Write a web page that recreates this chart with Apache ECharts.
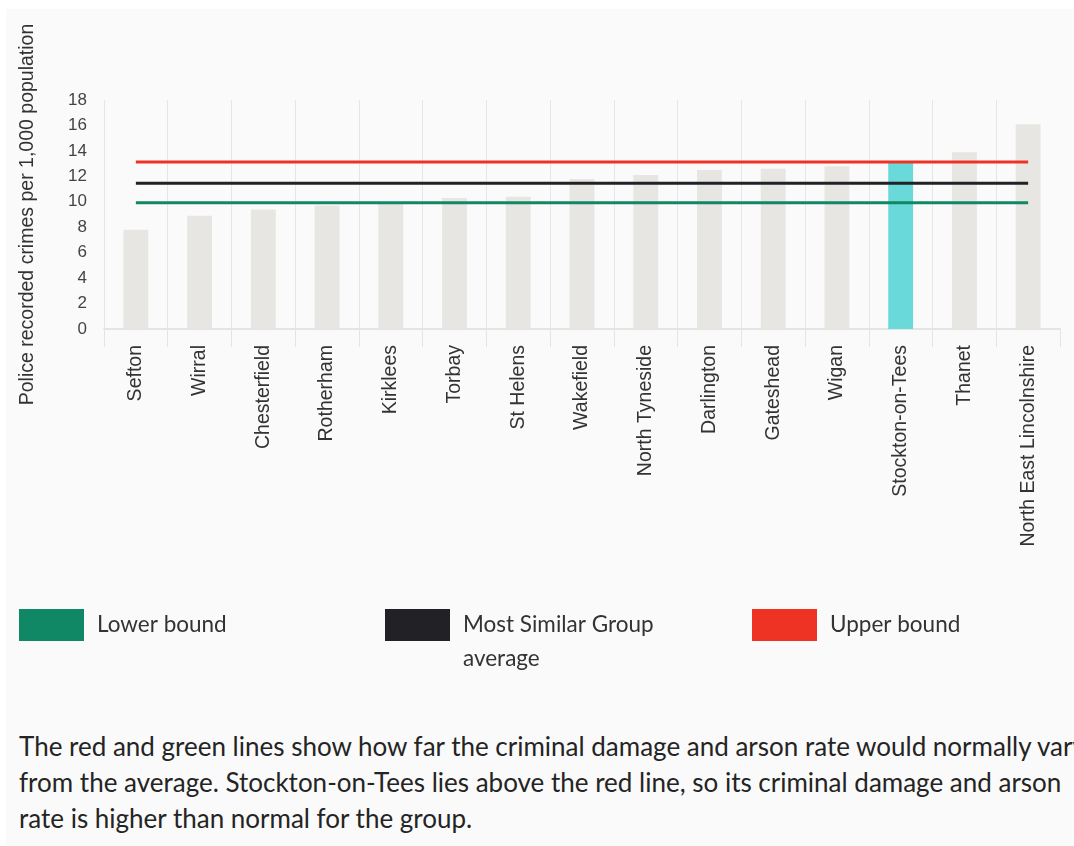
<!DOCTYPE html>
<html>
<head>
<meta charset="utf-8">
<script src="https://cdn.jsdelivr.net/npm/echarts@6/dist/echarts.min.js"></script>
<style>
  html, body { margin: 0; padding: 0; background: #ffffff; width: 1074px; height: 846px; overflow: hidden; }
  #panel { position: absolute; left: 6px; top: 9px; width: 1068px; height: 837px; background: #fafafa; }
  #chart { position: absolute; left: 0; top: 0; width: 1074px; height: 700px; }
  #note { position: absolute; left: 19px; top: 728px; font-family: Lato, sans-serif; font-size: 26px; line-height: 36px; color: #242424; white-space: nowrap; }
</style>
</head>
<body>
<div id="panel"></div>
<div id="chart"></div>
<div id="note">The red and green lines show how far the criminal damage and arson rate would normally vary<br>from the average. Stockton-on-Tees lies above the red line, so its criminal damage and arson<br>rate is higher than normal for the group.</div>
<script>
// ---- data ----
const categories = ['Sefton', 'Wirral', 'Chesterfield', 'Rotherham', 'Kirklees', 'Torbay', 'St Helens',
  'Wakefield', 'North Tyneside', 'Darlington', 'Gateshead', 'Wigan', 'Stockton-on-Tees', 'Thanet',
  'North East Lincolnshire'];
const rates = [7.8, 8.9, 9.4, 9.7, 9.9, 10.3, 10.4, 11.8, 12.1, 12.5, 12.6, 12.8, 13.2, 13.9, 16.1];
const highlighted = 'Stockton-on-Tees';
const lowerBound = 9.93;
const groupAverage = 11.45;
const upperBound = 13.13;
const seriesNames = ['Lower bound', 'Most Similar Group average', 'Upper bound'];
const yAxisTitle = 'Police recorded crimes per 1,000 population';

// ---- chart ----
const chart = echarts.init(document.getElementById('chart'), null, { renderer: 'canvas' });
const flat = v => categories.map(() => v);
const axisFont = 'Liberation Sans, Arial, sans-serif';
const legendBase = {
  top: 609, padding: 0, itemWidth: 65, itemHeight: 32, icon: 'rect', selectedMode: false,
  textStyle: { fontFamily: 'Lato, sans-serif', fontSize: 22.5, color: '#333333', padding: [0, 0, 0, 8] }
};
chart.setOption({
  backgroundColor: 'transparent',
  animation: false,
  grid: { left: 104, right: 14, top: 100, height: 229, containLabel: false },
  legend: [
    Object.assign({}, legendBase, { left: 19, data: [seriesNames[0]] }),
    Object.assign({}, legendBase, {
      left: 385, top: 574, data: [seriesNames[1]],
      formatter: () => '\nMost Similar Group\naverage',
      textStyle: Object.assign({}, legendBase.textStyle, { lineHeight: 34 })
    }),
    Object.assign({}, legendBase, { left: 752, data: [seriesNames[2]] })
  ],
  xAxis: {
    type: 'category',
    data: categories,
    boundaryGap: true,
    axisLine: { show: true, lineStyle: { color: '#e4e4e4', width: 2 } },
    axisTick: { show: true, length: 18, lineStyle: { color: '#e4e4e4' } },
    splitLine: { show: true, showMaxLine: false, lineStyle: { color: '#e6e6e6', width: 1 } },
    axisLabel: { rotate: 90, interval: 0, margin: 16, fontSize: 19.5, color: '#333333', fontFamily: axisFont }
  },
  yAxis: {
    type: 'value',
    min: 0, max: 18, interval: 2,
    name: yAxisTitle,
    nameLocation: 'middle',
    nameGap: 66,
    nameTextStyle: { fontSize: 19.5, color: '#333333', fontFamily: axisFont },
    axisLine: { show: false },
    axisTick: { show: false },
    splitLine: { show: false },
    axisLabel: { margin: 17, fontSize: 17, color: '#444444', fontFamily: axisFont }
  },
  series: [
    {
      type: 'bar',
      name: 'Rate',
      barWidth: '39%',
      data: rates.map((v, i) => ({
        value: v,
        itemStyle: { color: categories[i] === highlighted ? '#69d9d9' : '#e8e6e2' }
      })),
      z: 1
    },
    { type: 'line', name: seriesNames[0], data: flat(lowerBound), color: '#108765', symbol: 'none',
      lineStyle: { width: 3, color: '#108765' }, z: 3 },
    { type: 'line', name: seriesNames[1], data: flat(groupAverage), color: '#222226', symbol: 'none',
      lineStyle: { width: 3, color: '#222226' }, z: 3 },
    { type: 'line', name: seriesNames[2], data: flat(upperBound), color: '#ee3224', symbol: 'none',
      lineStyle: { width: 3, color: '#ee3224' }, z: 3 }
  ]
});
</script>
</body>
</html>
